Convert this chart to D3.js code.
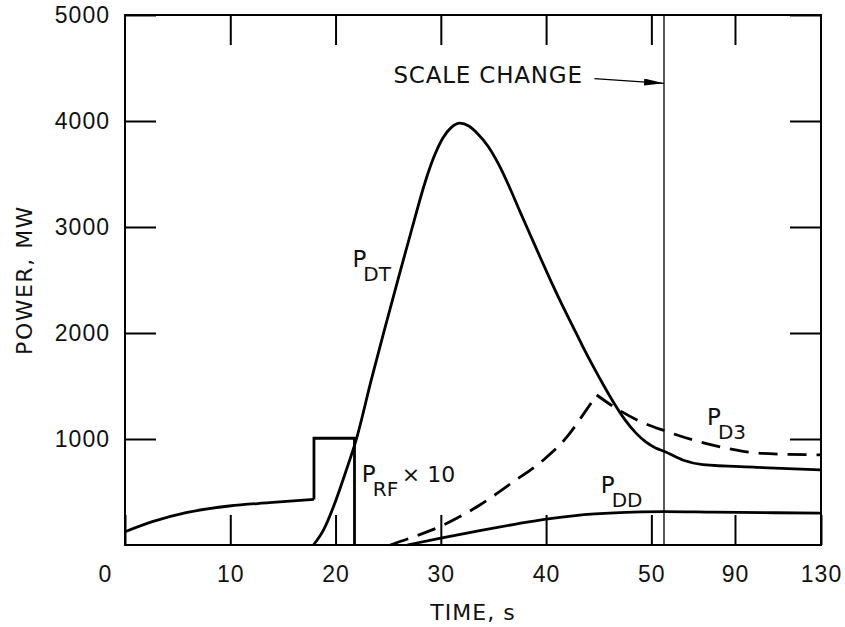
<!DOCTYPE html>
<html>
<head>
<meta charset="utf-8">
<script src="https://cdn.jsdelivr.net/npm/d3@7"></script>
<style>
  body { margin: 0; background: #fff; }
  svg { display: block; font-family: 'DejaVu Sans', sans-serif; }
  .axis text { font-size: 23px; fill: #111; letter-spacing: 1px; }
  .axis line { stroke: #000; stroke-width: 2; }
</style>
</head>
<body>
<div id="chart"></div>
<script>
// time axis changes scale: 0..51.2 s linear, then 57..130 s squeezed ~5x
const xBreak = [51.2, 57]
const xTicks = [0, 10, 20, 30, 40, 50, 90, 130]
const xTicksTop = [10, 20, 30, 40, 50, 90]
const yTicks = [1000, 2000, 3000, 4000, 5000]

// P_DT
const dtTime = [17.9, 18.9, 19.8, 21.0, 22.0, 23.4, 24.7, 26.0, 27.3, 28.5, 29.3, 30.2, 31.0, 31.8, 32.7, 33.5,
  34.5, 35.5, 36.5, 37.5, 38.5, 39.5, 40.5, 41.5, 42.5, 43.5, 44.5, 45.5, 46.5, 47.5, 48.5, 49.5, 50.4, 51.2,
  57, 66, 75, 100, 130]
const dtPower = [0, 150, 360, 700, 1006, 1560, 2050, 2530, 3000, 3420, 3650, 3840, 3940, 3980, 3950, 3880,
  3760, 3590, 3380, 3150, 2925, 2700, 2480, 2270, 2070, 1870, 1680, 1500, 1330, 1180, 1060, 970, 915, 885,
  885, 800, 758, 733, 708]

// P_D3 (dashed), rising branch and falling branch meet at a sharp peak
const d3RiseTime = [25.2, 27.5, 29.9, 33.7, 36.9, 39.75, 42.0, 43.6, 44.8]
const d3RisePower = [0, 80, 173, 377, 597, 802, 1022, 1242, 1415]
const d3FallTime = [44.8, 46.9, 49.0, 51.2, 57, 70.7, 86.4, 102, 130]
const d3FallPower = [1415, 1274, 1163, 1080, 1080, 990, 912, 865, 850]

// P_DD
const ddTime = [26.8, 30, 33.7, 37, 40, 43, 46, 49, 51.2, 57, 80, 130]
const ddPower = [0, 65, 135, 195, 245, 280, 300, 312, 315, 315, 310, 300]

// P_RF x 10: smooth ramp, then the rectangular pulse
const rfTime = [0, 2.6, 5.8, 9.9, 13.7, 17.95]
const rfPower = [125, 220, 305, 368, 399, 430]
const rfStepTime = [17.95, 17.95, 21.8, 21.8]
const rfStepPower = [430, 1007, 1007, 0]

const W = 845
const H = 627
const margin = { top: 15, right: 24, bottom: 82, left: 125 }
const width = W - margin.left - margin.right
const height = H - margin.top - margin.bottom

const x = d3.scaleLinear()
  .domain([0, xBreak[0], xBreak[1], 130])
  .range([0, 539, 539, width])
const y = d3.scaleLinear().domain([0, 5000]).range([height, 0])

const svg = d3.select('#chart').append('svg')
  .attr('width', W)
  .attr('height', H)

svg.append('defs').append('marker')
  .attr('id', 'arrow')
  .attr('viewBox', '0 0 20 7')
  .attr('refX', 20)
  .attr('refY', 3.5)
  .attr('markerWidth', 20)
  .attr('markerHeight', 7)
  .attr('markerUnits', 'userSpaceOnUse')
  .attr('orient', 'auto')
  .append('path')
  .attr('d', 'M0,0L20,3.5L0,7Z')
  .attr('fill', '#000')

const g = svg.append('g').attr('transform', `translate(${margin.left},${margin.top})`)

// axes, ticks point inwards on all four sides
g.append('g').attr('class', 'axis')
  .call(d3.axisLeft(y).tickValues(yTicks).tickSizeInner(-31).tickSizeOuter(0).tickPadding(15).tickFormat(d3.format('d')))
g.append('g').attr('class', 'axis')
  .attr('transform', `translate(${width},0)`)
  .call(d3.axisRight(y).tickValues(yTicks).tickSizeInner(-31).tickSizeOuter(0).tickFormat(''))
g.append('g').attr('class', 'axis')
  .call(d3.axisTop(x).tickValues(xTicksTop).tickSizeInner(-30).tickSizeOuter(0).tickFormat(''))
const xAxis = g.append('g').attr('class', 'axis')
  .attr('transform', `translate(0,${height})`)
  .call(d3.axisBottom(x).tickValues(xTicks).tickSizeInner(-30).tickSizeOuter(0).tickPadding(21).tickFormat(d3.format('d')))
xAxis.selectAll('.tick text').filter(d => d === 0).attr('dx', -20)
g.selectAll('.axis .domain').remove()

g.append('rect')
  .attr('width', width)
  .attr('height', height)
  .attr('fill', 'none')
  .attr('stroke', '#000')
  .attr('stroke-width', 2)

// scale change marker
g.append('line')
  .attr('x1', x(xBreak[0])).attr('x2', x(xBreak[0]))
  .attr('y1', 0).attr('y2', height)
  .attr('stroke', '#000')
  .attr('stroke-width', 1.3)

const line = d3.line()
  .x(d => x(d[0]))
  .y(d => y(d[1]))
  .curve(d3.curveMonotoneX)

const stepLine = d3.line()
  .x(d => x(d[0]))
  .y(d => y(d[1]))

function drawCurve (gen, times, powers, dashed) {
  g.append('path')
    .datum(d3.zip(times, powers))
    .attr('d', gen)
    .attr('fill', 'none')
    .attr('stroke', '#000')
    .attr('stroke-width', 2.8)
    .attr('stroke-dasharray', dashed ? '19,10' : null)
}

drawCurve(line, rfTime, rfPower)
drawCurve(stepLine, rfStepTime, rfStepPower)
drawCurve(line, dtTime, dtPower)
drawCurve(line, ddTime, ddPower)
drawCurve(line, d3RiseTime, d3RisePower, true)
drawCurve(line, d3FallTime, d3FallPower, true)

// curve labels with subscripts
function label (t, p, main, sub) {
  const txt = g.append('text')
    .attr('x', x(t))
    .attr('y', y(p))
    .attr('fill', '#111')
    .attr('font-size', 23)
  txt.append('tspan').text(main)
  txt.append('tspan')
    .attr('dx', -3)
    .attr('dy', 14)
    .attr('font-size', 20)
    .text(sub)
  return txt
}

label(21.6, 2620, 'P', 'DT')
label(22.5, 595, 'P', 'RF')
g.append('text')
  .attr('x', x(26.3))
  .attr('y', y(590))
  .attr('fill', '#111')
  .attr('font-size', 22)
  .text('\u00d7 10')
label(45.2, 490, 'P', 'DD')
label(77, 1130, 'P', 'D3')

g.append('text')
  .attr('x', x(25.5))
  .attr('y', y(4360))
  .attr('fill', '#111')
  .attr('font-size', 23)
  .attr('letter-spacing', 0.8)
  .text('SCALE CHANGE')

g.append('line')
  .attr('x1', x(44.6)).attr('y1', y(4400))
  .attr('x2', x(xBreak[0])).attr('y2', y(4355))
  .attr('stroke', '#000')
  .attr('stroke-width', 1.3)
  .attr('marker-end', 'url(#arrow)')

// axis titles
g.append('text')
  .attr('x', width / 2)
  .attr('y', height + 75)
  .attr('text-anchor', 'middle')
  .attr('fill', '#111')
  .attr('font-size', 22)
  .attr('letter-spacing', 1)
  .text('TIME, s')

g.append('text')
  .attr('transform', `translate(${-93},${y(2500)}) rotate(-90)`)
  .attr('text-anchor', 'middle')
  .attr('fill', '#111')
  .attr('font-size', 22)
  .attr('letter-spacing', 1.5)
  .text('POWER, MW')
</script>
</body>
</html>
